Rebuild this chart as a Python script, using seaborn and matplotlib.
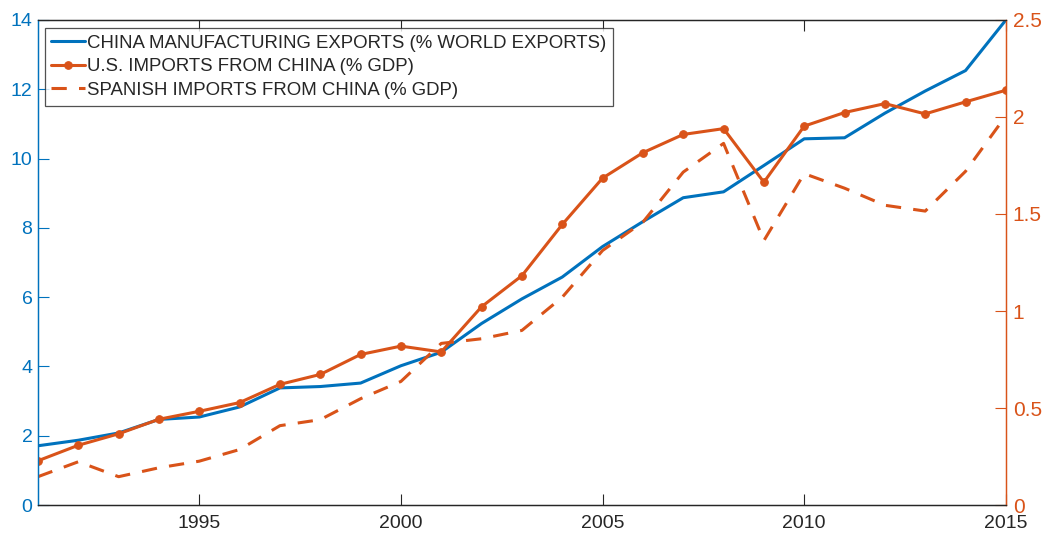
import matplotlib
matplotlib.use("Agg")
import matplotlib.pyplot as plt
import seaborn as sns
import pandas as pd
from matplotlib.ticker import FuncFormatter, MultipleLocator

years = list(range(1991, 2016))
china_mfg_exports = [1.71, 1.87, 2.08, 2.47, 2.54, 2.83, 3.38, 3.42, 3.52, 4.02, 4.41,
                     5.24, 5.95, 6.58, 7.46, 8.18, 8.87, 9.04, 9.80, 10.57, 10.60,
                     11.31, 11.95, 12.54, 14.0]
us_imports = [0.228, 0.308, 0.367, 0.442, 0.483, 0.528, 0.622, 0.673, 0.776, 0.819, 0.789,
              1.022, 1.182, 1.446, 1.685, 1.816, 1.91, 1.94, 1.664, 1.953, 2.023,
              2.069, 2.016, 2.078, 2.138]
spanish_imports = [0.146, 0.223, 0.146, 0.192, 0.226, 0.286, 0.409, 0.44, 0.548, 0.637, 0.833,
                   0.857, 0.90, 1.071, 1.312, 1.458, 1.716, 1.864, 1.363, 1.708, 1.633,
                   1.545, 1.515, 1.72, 2.006]

labels = ["CHINA MANUFACTURING EXPORTS (% WORLD EXPORTS)",
          "U.S. IMPORTS FROM CHINA (% GDP)",
          "SPANISH IMPORTS FROM CHINA (% GDP)"]

df = pd.DataFrame({"year": years, "china": china_mfg_exports,
                   "us": us_imports, "spain": spanish_imports})

sns.set_theme(style="white")
plt.rcParams['font.family'] = ['Liberation Sans', 'DejaVu Sans']

BLUE = "#0072BD"
ORANGE = "#D95319"

fig = plt.figure(figsize=(10.43, 5.33), dpi=100)
ax = fig.add_axes([0.0364, 0.0525, 0.928, 0.91])
ax2 = ax.twinx()

sns.lineplot(data=df, x="year", y="china", ax=ax, color=BLUE, linewidth=2.2, label=labels[0], legend=False)
sns.lineplot(data=df, x="year", y="us", ax=ax2, color=ORANGE, linewidth=2.2, marker="o",
             markersize=5.5, markeredgecolor=ORANGE, label=labels[1], legend=False)
sns.lineplot(data=df, x="year", y="spain", ax=ax2, color=ORANGE, linewidth=2.2,
             label=labels[2], legend=False)
ax2.lines[-1].set_dashes((5, 4))

ax.set_xlim(1991, 2015)
ax.set_ylim(0, 14)
ax2.set_ylim(0, 2.5)
ax.set_xticks([1995, 2000, 2005, 2010, 2015])
ax.yaxis.set_major_locator(MultipleLocator(2))
ax2.yaxis.set_major_locator(MultipleLocator(0.5))
ax2.yaxis.set_major_formatter(FuncFormatter(lambda v, p: f"{v:g}"))
ax.set_xlabel("")
ax.set_ylabel("")
ax2.set_ylabel("")

for a in (ax, ax2):
    for s in a.spines.values():
        s.set_linewidth(0.9)
        s.set_color("#262626")
ax.spines['left'].set_color(BLUE)
ax2.spines['left'].set_color(BLUE)
ax2.spines['right'].set_color(ORANGE)
ax.spines['right'].set_color(ORANGE)

ax.tick_params(axis='x', direction='in', length=8, width=0.8, colors="#262626",
               labelsize=14, pad=7, top=True, bottom=True)
ax.tick_params(axis='y', direction='in', length=8, width=0.8, colors=BLUE, labelsize=14, pad=4, left=True)
ax2.tick_params(axis='y', direction='in', length=8, width=0.8, colors=ORANGE, labelsize=15, pad=5, right=True)

h1, l1 = ax.get_legend_handles_labels()
h2, l2 = ax2.get_legend_handles_labels()
leg = ax2.legend(h1 + h2, l1 + l2, loc="upper left", bbox_to_anchor=(0.0072, 0.9835),
                 fontsize=13.4, frameon=True, fancybox=False, handlelength=1.8,
                 handletextpad=0.1, borderpad=0.35, labelspacing=0.36, borderaxespad=0)
leg.get_frame().set_edgecolor("#262626")
leg.get_frame().set_linewidth(0.9)

fig.savefig("out.png", dpi=100)
